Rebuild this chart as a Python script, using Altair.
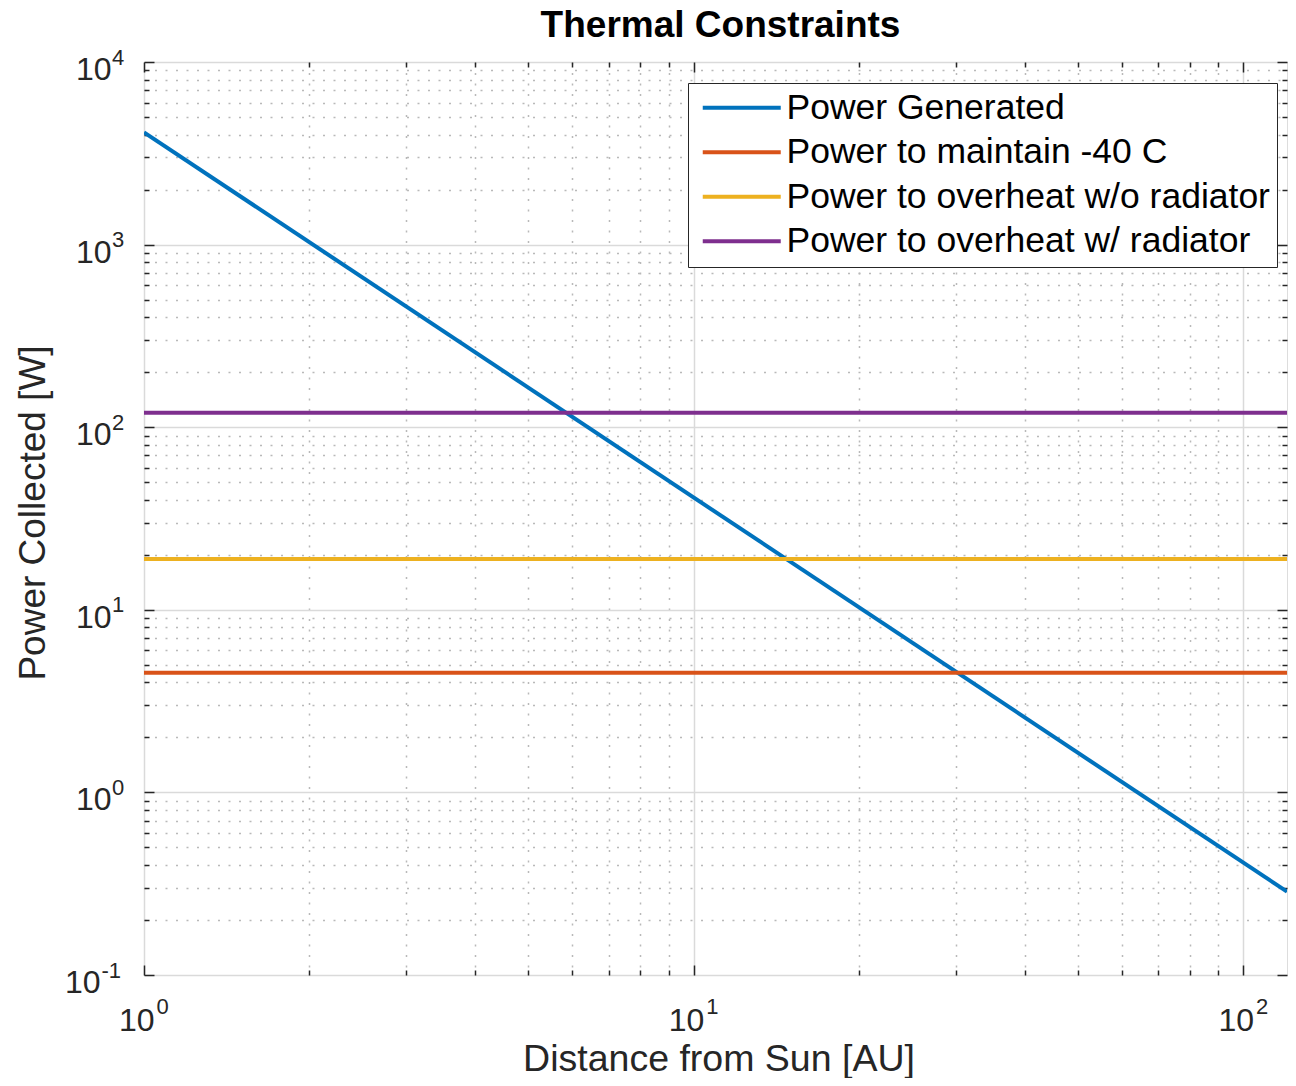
import altair as alt
import pandas as pd

# ---------------- data ----------------
series_names = [
    "Power Generated",
    "Power to maintain -40 C",
    "Power to overheat w/o radiator",
    "Power to overheat w/ radiator",
]
series_colors = ["#0072BD", "#D95319", "#EDB120", "#7E2F8E"]

generated_distance = [1, 120]
generated_power = [4120, 0.286]

flat_distance = [1, 120]
maintain_power = [4.52, 4.52]
overheat_no_radiator_power = [19.0, 19.0]
overheat_radiator_power = [120.0, 120.0]

x_major = [1, 10, 100]
x_major_exponents = ["0", "1", "2"]
x_minor = [m * d for d in (1, 10) for m in range(2, 10)]

y_major = [0.1, 1, 10, 100, 1000, 10000]
y_major_exponents = ["-1", "0", "1", "2", "3", "4"]
y_minor = [round(m * d, 6) for d in (0.1, 1, 10, 100, 1000) for m in range(2, 10)]

tick_base = "10"
title_text = "Thermal Constraints"
x_title = "Distance from Sun [AU]"
y_title = "Power Collected [W]"

# ---------------- table ----------------
rows = []
for name, xs, ys in [
    (series_names[0], generated_distance, generated_power),
    (series_names[1], flat_distance, maintain_power),
    (series_names[2], flat_distance, overheat_no_radiator_power),
    (series_names[3], flat_distance, overheat_radiator_power),
]:
    for xv, yv in zip(xs, ys):
        rows.append({"series": name, "distance": xv, "power": yv})
df = pd.DataFrame(rows)

FONT = "Liberation Sans"
TXT = "#262626"
W, H = 1143, 913
BASE_FS = 32
EXP_FS = 22

xscale = alt.Scale(type="log", domain=[1, 120], nice=False)
yscale = alt.Scale(type="log", domain=[0.1, 10000], nice=False)


def label_expr(values, labels):
    lab = ",".join("'" + s + "'" for s in labels)
    val = ",".join(repr(v) for v in values)
    return "[" + lab + "][indexof([" + val + "], datum.value)]"


def ghost(xaxis, yaxis):
    return alt.Chart(df).mark_line(opacity=0).encode(
        x=alt.X("distance:Q", scale=xscale, axis=xaxis, title=None),
        y=alt.Y("power:Q", scale=yscale, axis=yaxis, title=None),
        detail="series:N",
    )


def tick_axis(orient, values, size):
    return alt.Axis(
        orient=orient, values=values, grid=False, labels=False, domain=False,
        ticks=True, tickSize=size, offset=-size, tickColor=TXT, tickWidth=1.5,
        minExtent=0, maxExtent=size, zindex=0,
    )


minor_grid = ghost(
    alt.Axis(orient="bottom", values=x_minor, grid=True, gridColor="#b9b9b9",
             gridWidth=1.5, gridDash=[2, 8.5], ticks=False, labels=False,
             domain=False, minExtent=0, zindex=0),
    alt.Axis(orient="left", values=y_minor, grid=True, gridColor="#b9b9b9",
             gridWidth=1.5, gridDash=[2, 8.5], ticks=False, labels=False,
             domain=False, minExtent=0, zindex=0),
)

ticks_bl_major = ghost(tick_axis("bottom", x_major, 10), tick_axis("left", y_major, 10))
ticks_bl_minor = ghost(tick_axis("bottom", x_minor, 5), tick_axis("left", y_minor, 5))
ticks_tr_major = ghost(tick_axis("top", x_major, 10), tick_axis("right", y_major, 10))
ticks_tr_minor = ghost(tick_axis("top", x_minor, 5), tick_axis("right", y_minor, 5))

# exponent part of the decade labels (superscripts)
exponents = ghost(
    alt.Axis(orient="bottom", values=x_major, labelExpr=label_expr(x_major, x_major_exponents),
             grid=False, ticks=False, domain=False, labelFont=FONT, labelFontSize=EXP_FS,
             labelColor=TXT, labelAlign="left", labelBaseline="alphabetic",
             labelPadding=38, labelOffset=12, labelFlush=False, labelOverlap=False,
             zindex=0),
    alt.Axis(orient="left", values=y_major, labelExpr=label_expr(y_major, y_major_exponents),
             grid=False, ticks=False, domain=False, labelFont=FONT, labelFontSize=EXP_FS,
             labelColor=TXT, labelAlign="left", labelBaseline="alphabetic",
             labelPadding={"condition": {"test": "datum.value < 0.5", "value": 43}, "value": 32.5},
             labelOffset=2, labelOverlap=False, zindex=0),
)

lines = alt.Chart(df).mark_line(strokeWidth=4, clip=True).encode(
    x=alt.X(
        "distance:Q", scale=xscale, title=x_title,
        axis=alt.Axis(
            orient="bottom", values=x_major, labelExpr="'" + tick_base + "'",
            grid=True, gridColor="#dadada", gridWidth=1.5, ticks=False, domain=False,
            labelFont=FONT, labelFontSize=BASE_FS, labelColor=TXT,
            labelAlign="right", labelBaseline="alphabetic", labelPadding=55,
            labelOffset=10, labelFlush=False, labelOverlap=False,
            titleFont=FONT, titleFontSize=37.5, titleFontWeight="normal", titleColor=TXT,
            titleX=W / 2 + 3, titleY=95, titleBaseline="alphabetic", titleAlign="center",
            zindex=0,
        ),
    ),
    y=alt.Y(
        "power:Q", scale=yscale, title=y_title,
        axis=alt.Axis(
            orient="left", values=y_major, labelExpr="'" + tick_base + "'",
            grid=True, gridColor="#dadada", gridWidth=1.5, ticks=False, domain=False,
            labelFont=FONT, labelFontSize=BASE_FS, labelColor=TXT,
            labelAlign="right", labelBaseline="alphabetic",
            labelPadding={"condition": {"test": "datum.value < 0.5", "value": 44}, "value": 33},
            labelOffset=17.5, labelOverlap=False,
            titleFont=FONT, titleFontSize=37, titleFontWeight="normal", titleColor=TXT,
            titleAngle=270, titleX=-100, titleY=H / 2 - 6, titleBaseline="alphabetic",
            titleAlign="center", zindex=0,
        ),
    ),
    color=alt.Color(
        "series:N",
        scale=alt.Scale(domain=series_names, range=series_colors),
        legend=alt.Legend(
            orient="none", legendX=544, legendY=21, direction="vertical",
            title=None, symbolType="M-3,0H3", symbolSize=676, symbolStrokeWidth=4,
            symbolOffset=29, labelOffset=27,
            labelFont=FONT, labelFontSize=35.5, labelColor="black", labelLimit=800,
            strokeColor=TXT, fillColor="white", padding=7, rowPadding=7.5,
        ),
    ),
    order="distance:Q",
)

chart = (
    alt.layer(minor_grid, ticks_bl_major, ticks_bl_minor, ticks_tr_major,
              ticks_tr_minor, exponents, lines)
    .resolve_axis(x="independent", y="independent")
    .properties(
        width=W, height=H,
        title=alt.TitleParams(
            title_text, font=FONT, fontSize=37, fontWeight="bold", color="black",
            anchor="middle", frame="group", offset=25, baseline="alphabetic",
            dx=5, dy=53,
        ),
        autosize=alt.AutoSizeParams(type="none"),
        padding={"left": 136, "top": 54, "right": 1, "bottom": 103},
    )
    .configure_view(stroke=TXT, strokeWidth=2)
    .configure(background="white")
)

chart.save("out.html", embed_options={"renderer": "svg", "actions": False})
